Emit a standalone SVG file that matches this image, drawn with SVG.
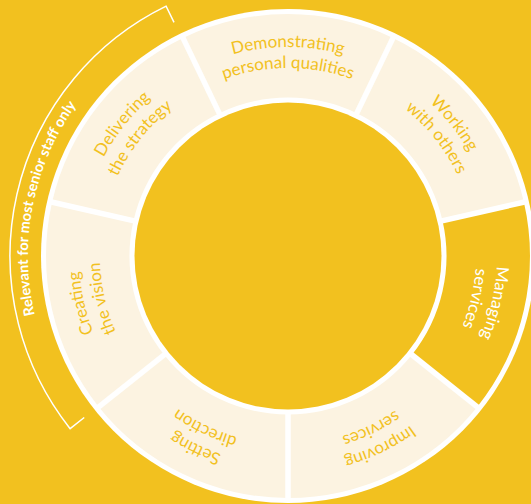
<svg xmlns="http://www.w3.org/2000/svg" width="531" height="504" viewBox="0 0 531 504">
  <style>
    .seg { fill: #FCF3E1; }
    .seg-y { fill: #F2C11F; }
    .lbl { font-family: Lato, "Open Sans", "Liberation Sans", sans-serif; font-size: 17px; fill: #F2C11F; text-anchor: middle; }
    .lbl-w { fill: #FFFFFF; }
    .sep { stroke: #FFFFFF; stroke-width: 5.5; }
    .brk { fill: none; stroke: #FFFFFF; stroke-width: 1.5; }
    .brk-t { font-family: Lato, "Open Sans", "Liberation Sans", sans-serif; font-size: 14.5px; font-weight: 700; fill: #FFFFFF; text-anchor: middle; }
  </style>
  <defs>
    <path id="sector" d="M183.00,37.97 A242,242 0 0 1 393.00,37.97 L356.77,113.20 A158.5,158.5 0 0 0 219.23,113.20 Z"/>
    <path id="arcOuter" d="M153.66,95.90 A209,209 0 0 1 422.34,95.90"/>
    <path id="arcInner" d="M167.16,111.98 A188,188 0 0 1 408.84,111.98"/>
    <line id="sepLine" x1="353.08" y1="120.85" x2="394.73" y2="34.36"/>
    <path id="arcBracket" d="M85.37,418.92 A260,260 0 0 1 162.74,28.16"/>
  </defs>
  <rect width="531" height="504" fill="#F2C11F"/>
  <circle cx="288" cy="256" r="247" fill="#FFFFFF"/>

  <g id="node-demonstrating" transform="rotate(0 288 256)">
    <use href="#sector" class="seg"/>
    <text class="lbl"><textPath href="#arcOuter" startOffset="50%">Demonstrating</textPath></text>
    <text class="lbl"><textPath href="#arcInner" startOffset="50%">personal qualities</textPath></text>
  </g>
  <g id="node-working" transform="rotate(51.4286 288 256)">
    <use href="#sector" class="seg"/>
    <text class="lbl"><textPath href="#arcOuter" startOffset="50%">Working</textPath></text>
    <text class="lbl"><textPath href="#arcInner" startOffset="50%">with others</textPath></text>
  </g>
  <g id="node-managing" transform="rotate(102.8571 288 256)">
    <use href="#sector" class="seg-y"/>
    <text class="lbl lbl-w"><textPath href="#arcOuter" startOffset="50%">Managing</textPath></text>
    <text class="lbl lbl-w"><textPath href="#arcInner" startOffset="50%">services</textPath></text>
  </g>
  <g id="node-improving" transform="rotate(154.2857 288 256)">
    <use href="#sector" class="seg"/>
    <text class="lbl"><textPath href="#arcOuter" startOffset="50%">Improving</textPath></text>
    <text class="lbl"><textPath href="#arcInner" startOffset="50%">services</textPath></text>
  </g>
  <g id="node-setting" transform="rotate(205.7143 288 256)">
    <use href="#sector" class="seg"/>
    <text class="lbl"><textPath href="#arcOuter" startOffset="50%">Setting</textPath></text>
    <text class="lbl"><textPath href="#arcInner" startOffset="50%">direction</textPath></text>
  </g>
  <g id="node-creating" transform="rotate(257.1429 288 256)">
    <use href="#sector" class="seg"/>
    <text class="lbl"><textPath href="#arcOuter" startOffset="50%">Creating</textPath></text>
    <text class="lbl"><textPath href="#arcInner" startOffset="50%">the vision</textPath></text>
  </g>
  <g id="node-delivering" transform="rotate(308.5714 288 256)">
    <use href="#sector" class="seg"/>
    <text class="lbl"><textPath href="#arcOuter" startOffset="50%">Delivering</textPath></text>
    <text class="lbl"><textPath href="#arcInner" startOffset="50%">the strategy</textPath></text>
  </g>

  <g id="separators">
    <use href="#sepLine" class="sep" transform="rotate(0 288 256)"/>
    <use href="#sepLine" class="sep" transform="rotate(51.4286 288 256)"/>
    <use href="#sepLine" class="sep" transform="rotate(102.8571 288 256)"/>
    <use href="#sepLine" class="sep" transform="rotate(154.2857 288 256)"/>
    <use href="#sepLine" class="sep" transform="rotate(205.7143 288 256)"/>
    <use href="#sepLine" class="sep" transform="rotate(257.1429 288 256)"/>
    <use href="#sepLine" class="sep" transform="rotate(308.5714 288 256)"/>
  </g>

  <circle id="centre" cx="288" cy="256" r="153.5" fill="#F2C11F"/>

  <g id="bracket">
    <path class="brk" d="M84.24,417.50 L70.13,428.68 A278,278 0 0 1 166.13,6.14 L174.02,22.31"/>
    <text class="brk-t"><textPath href="#arcBracket" startOffset="50%">Relevant for most senior staff only</textPath></text>
  </g>
</svg>
